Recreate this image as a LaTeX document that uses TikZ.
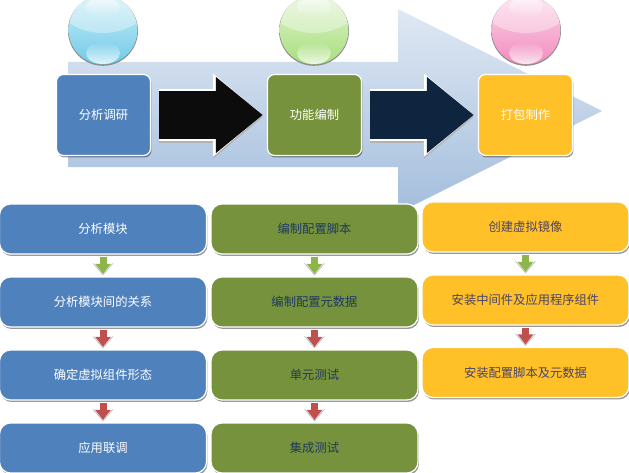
\documentclass[tikz,border=0pt]{standalone}
\usepackage{fontspec}
\newfontfamily\cjk{Noto Sans CJK SC}
\usetikzlibrary{arrows.meta, shadows, fadings}
\definecolor{boxblue}{HTML}{4F81BD}
\definecolor{boxgreen}{HTML}{76923C}
\definecolor{boxyellow}{HTML}{FFC028}
\definecolor{darktext}{HTML}{1F3A5F}
\definecolor{darkplum}{HTML}{4A4468}
\definecolor{arrowgreen}{HTML}{8DB54A}
\definecolor{arrowred}{HTML}{C0504D}
\definecolor{arrownavy}{HTML}{0F243E}
\definecolor{arrowblack}{HTML}{0C0C0C}
\definecolor{ballblue}{HTML}{6FCBE9}
\definecolor{ballgreen}{HTML}{A8DF7C}
\definecolor{ballpink}{HTML}{F28CBE}
\tikzset{
    cardbase/.style={draw=white, line width=0.7pt, text=white, font=\cjk\fontsize{7}{8}\selectfont, inner sep=0pt,
        drop shadow={shadow xshift=0.02cm, shadow yshift=-0.04cm, opacity=0.4, fill=black}},
    topcard/.style={cardbase, fill=#1, rounded corners=0.14cm, minimum width=1.88cm, minimum height=1.62cm},
    stepcard/.style={cardbase, fill=#1, rounded corners=0.22cm, minimum width=4.14cm, minimum height=1cm},
    bigarrow/.style={draw=#1, line width=0.98cm, shorten <=0.16cm, shorten >=0.08cm,
        -{Triangle[length=0.94cm, width=1.46cm, fill=#1]},
        preaction={draw=black!30, transform canvas={yshift=-0.04cm}, line width=1.04cm, -{Triangle[length=1cm, width=1.6cm, fill=black!30]}},
        preaction={draw=white, line width=1.04cm, -{Triangle[length=1cm, width=1.6cm, fill=white]}}},
    smallarrow/.style={draw=#1, line width=0.14cm, shorten <=0.05cm, shorten >=0.05cm,
        -{Triangle[length=0.2cm, width=0.3cm, fill=#1]},
        preaction={draw=black!25, transform canvas={yshift=-0.03cm}, line width=0.2cm, -{Triangle[length=0.24cm, width=0.4cm, fill=black!25]}},
        preaction={draw=white, line width=0.2cm, -{Triangle[length=0.24cm, width=0.4cm, fill=white]}}}
}
\begin{document}
\begin{tikzpicture}[x=0.02cm, y=-0.02cm]
    \useasboundingbox (0,0) rectangle (629,473);
    \clip (0,0) rectangle (629,473);

    % Background arrow
    \shade[top color=boxblue!18!white, bottom color=boxblue!52!white]
        (68,62) -- (398,62) -- (398,9) -- (602,111) -- (398,213) -- (398,167) -- (68,167) -- cycle;

    % Glass balls
    \foreach \cx/\ballcol in {103/ballblue, 314/ballgreen, 526/ballpink} {
        \fill[black!45] (\cx,30.8) circle (35);
        \shade[top color=\ballcol!35!white, bottom color=\ballcol] (\cx,30) circle (34.4);
        \begin{scope}
            \clip (\cx,30) circle (34.4);
            \fill[white, opacity=0.35] (\cx,-6) ellipse (50 and 39);
        \end{scope}
        \fill[white, path fading=south, opacity=0.6] (\cx,7) ellipse (17 and 10);
        \fill[white, path fading=north, opacity=0.8] (\cx,53) ellipse (17 and 11);
    }

    % Phases
    \node[topcard=boxblue] (analyse) at (103.5,115) {分析调研};
    \node[topcard=boxgreen] (compile) at (314.5,115) {功能编制};
    \node[topcard=boxyellow] (package) at (525.5,115) {打包制作};

    % Analysis steps
    \node[stepcard=boxblue] (a1) at (103,229) {分析模块};
    \node[stepcard=boxblue] (a2) at (103,302) {分析模块间的关系};
    \node[stepcard=boxblue] (a3) at (103,375) {确定虚拟组件形态};
    \node[stepcard=boxblue] (a4) at (103,448) {应用联调};

    % Compile steps
    \node[stepcard=boxgreen, text=darktext] (b1) at (314.5,229) {编制配置脚本};
    \node[stepcard=boxgreen, text=darktext] (b2) at (314.5,302) {编制配置元数据};
    \node[stepcard=boxgreen, text=darktext] (b3) at (314.5,375) {单元测试};
    \node[stepcard=boxgreen, text=darktext] (b4) at (314.5,448) {集成测试};

    % Packaging steps
    \node[stepcard=boxyellow, text=darkplum] (c1) at (525.5,227) {创建虚拟镜像};
    \node[stepcard=boxyellow, text=darkplum] (c2) at (525.5,300) {安装中间件及应用程序组件};
    \node[stepcard=boxyellow, text=darkplum] (c3) at (525.5,372.5) {安装配置脚本及元数据};

    % Phase arrows
    \draw[bigarrow=arrowblack] (analyse) -- (compile);
    \draw[bigarrow=arrownavy] (compile) -- (package);

    % Step arrows
    \draw[smallarrow=arrowgreen] (a1) -- (a2);
    \draw[smallarrow=arrowred] (a2) -- (a3);
    \draw[smallarrow=arrowred] (a3) -- (a4);
    \draw[smallarrow=arrowgreen] (b1) -- (b2);
    \draw[smallarrow=arrowred] (b2) -- (b3);
    \draw[smallarrow=arrowred] (b3) -- (b4);
    \draw[smallarrow=arrowgreen] (c1) -- (c2);
    \draw[smallarrow=arrowred] (c2) -- (c3);
\end{tikzpicture}
\end{document}
